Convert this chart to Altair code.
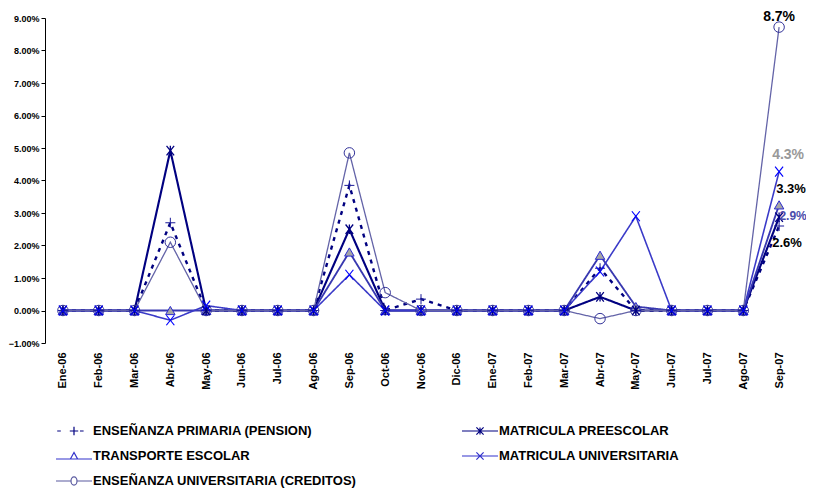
import altair as alt
import pandas as pd

# ---------------- data ----------------
months = ["Ene-06", "Feb-06", "Mar-06", "Abr-06", "May-06", "Jun-06", "Jul-06",
          "Ago-06", "Sep-06", "Oct-06", "Nov-06", "Dic-06", "Ene-07", "Feb-07",
          "Mar-07", "Abr-07", "May-07", "Jun-07", "Jul-07", "Ago-07", "Sep-07"]

series_names = ["ENSEÑANZA PRIMARIA (PENSION)",
                "MATRICULA PREESCOLAR",
                "TRANSPORTE ESCOLAR",
                "MATRICULA UNIVERSITARIA",
                "ENSEÑANZA UNIVERSITARIA (CREDITOS)"]

# values in percent
primaria = [0, 0, 0, 2.7, 0, 0, 0, 0, 3.85, 0, 0.35, 0, 0, 0, 0, 1.3, 0, 0, 0, 0, 2.6]
preescolar = [0, 0, 0, 4.92, 0, 0, 0, 0, 2.5, 0, 0, 0, 0, 0, 0, 0.42, 0, 0, 0, 0, 2.87]
transporte = [0, 0, 0, 0, 0, 0, 0, 0, 1.8, 0, 0, 0, 0, 0, 0, 1.7, 0.12, 0, 0, 0, 3.25]
mat_universitaria = [0, 0, 0, -0.3, 0.15, 0, 0, 0, 1.1, 0, 0, 0, 0, 0, 0, 1.2, 2.9, 0, 0, 0, 4.27]
creditos = [0, 0, 0, 2.1, 0, 0, 0, 0, 4.85, 0.55, 0, 0, 0, 0, 0, -0.25, 0, 0, 0, 0, 8.72]

end_labels = ["2.6%", "2.9%", "3.3%", "4.3%", "8.7%"]

values_by_series = [primaria, preescolar, transporte, mat_universitaria, creditos]

rows = []
for name, vals in zip(series_names, values_by_series):
    for m, v in zip(months, vals):
        rows.append({"mes": m, "serie": name, "valor": v / 100.0})
df = pd.DataFrame(rows)

lab_rows = []
for name, vals, lab in zip(series_names, values_by_series, end_labels):
    lab_rows.append({"mes": months[-1], "serie": name, "valor": vals[-1] / 100.0, "texto": lab})
df_lab = pd.DataFrame(lab_rows)

# ---------------- styles ----------------
FONT = "Liberation Sans"
line_colors = ["#000080", "#000080", "#3838B0", "#3A3AC8", "#6464A8"]
line_widths = [2.4, 1.3, 1.0, 1.0, 0.9]
line_dashes = [[4, 5], [1, 0], [1, 0], [1, 0], [1, 0]]

legend_colors = ["#000080", "#000080", "#3333CC", "#3333CC", "#5A5AA0"]
legend_paths = [
    "M-2.8,0H-2.2M-0.7,0H0.7M0,-0.7V0.7M1.0,0H1.6",
    "M-3,0H3M-0.6,-0.6L0.6,0.6M-0.6,0.6L0.6,-0.6M0,-0.6V0.6",
    "M-3,0.5H3M-0.6,0.5L0,-0.6L0.6,0.5Z",
    "M-3,0H3M-0.6,-0.6L0.6,0.6M-0.6,0.6L0.6,-0.6",
    "M-3,0H-0.5M0.5,0H3M0.5,0A0.5,0.7 0 1,1 -0.5,0A0.5,0.7 0 1,1 0.5,0",
]
# legend fills its grid column by column: order entries so rows read like the reference
legend_order = [0, 2, 4, 1, 3]
leg_domain = [series_names[i] for i in legend_order]
leg_colors = [legend_colors[i] for i in legend_order]
leg_paths = [legend_paths[i] for i in legend_order]

x_enc = alt.X("mes:N", sort=months,
              scale=alt.Scale(type="point", domain=months, padding=0.5),
              axis=alt.Axis(title=None, labelAngle=-90, domain=False, ticks=False,
                            labelPadding=9, labelFont=FONT, labelFontSize=11,
                            labelFontWeight="bold", labelColor="black"))
y_enc = alt.Y("valor:Q",
              scale=alt.Scale(domain=[-0.01, 0.09], nice=False, zero=False),
              axis=alt.Axis(title=None, format=".2%", values=[i / 100 for i in range(-1, 10)],
                            grid=False, domainColor="black", tickColor="black", tickSize=4,
                            labelPadding=2, labelFont=FONT, labelFontSize=9,
                            labelFontWeight="bold", labelColor="black"))

base = alt.Chart(df)

lines = base.mark_line().encode(
    x=x_enc, y=y_enc,
    stroke=alt.Stroke("serie:N", scale=alt.Scale(domain=series_names, range=line_colors), legend=None),
    strokeDash=alt.StrokeDash("serie:N", scale=alt.Scale(domain=series_names, range=line_dashes), legend=None),
    strokeWidth=alt.StrokeWidth("serie:N", scale=alt.Scale(domain=series_names, range=line_widths), legend=None),
    detail="serie:N",
)

def pts(name, shape, size, stroke, sw, fill=None):
    kw = dict(shape=shape, size=size, stroke=stroke, strokeWidth=sw, opacity=1)
    if fill:
        kw.update(filled=True, fill=fill)
    else:
        kw.update(filled=False)
    return base.transform_filter(alt.datum.serie == name).mark_point(**kw).encode(x=x_enc, y=y_enc)

p_cred = pts(series_names[4], "circle", 110, "#333399", 1.0)
p_trans = pts(series_names[2], "triangle-up", 90, "#2B2BD0", 1.0, fill="#A6A6A6")
p_prim = pts(series_names[0], "M-1,0H1M0,-1V1", 100, "#1A1A99", 1.0)
p_pre = pts(series_names[1], "M-0.8,-1L0.8,1M-0.8,1L0.8,-1M0,-1V1", 90, "#000080", 1.3)
p_univ = pts(series_names[3], "M-0.8,-1L0.8,1M-0.8,1L0.8,-1", 100, "#0000FF", 1.2)

leg = alt.Legend(title=None, orient="none", legendX=10, legendY=406, columns=2,
                 columnPadding=102, rowPadding=11, symbolSize=144, symbolStrokeWidth=1.2,
                 symbolOffset=12, labelOffset=12, labelFont=FONT, labelFontSize=13,
                 labelFontWeight="bold", labelColor="black", labelLimit=400, padding=0)

legend_layer = base.transform_filter("false").mark_point(filled=False, opacity=1).encode(
    color=alt.Color("serie:N", scale=alt.Scale(domain=leg_domain, range=leg_colors), legend=leg),
    shape=alt.Shape("serie:N", scale=alt.Scale(domain=leg_domain, range=leg_paths), legend=leg),
)

label_styles = [
    dict(color="black", dx=8, dy=17, size=13),
    dict(color="#4B4BAB", dx=14, dy=-1, size=12),
    dict(color="black", dx=12, dy=-16, size=13),
    dict(color="#999999", dx=9, dy=-17, size=14),
    dict(color="black", dx=0, dy=-10, size=14),
]
text_layers = []
for name, st in zip(series_names, label_styles):
    text_layers.append(
        alt.Chart(df_lab).transform_filter(alt.datum.serie == name).mark_text(
            font=FONT, fontWeight="bold", fontSize=st["size"], color=st["color"],
            dx=st["dx"], dy=st["dy"], align="center", baseline="middle"
        ).encode(x=x_enc, y=y_enc, text="texto:N")
    )

chart = alt.layer(legend_layer, lines, p_cred, p_trans, p_prim, p_pre, p_univ, *text_layers).properties(
    width=752, height=325,
    autosize=alt.AutoSizeParams(type="none"),
    padding={"left": 37, "top": 10, "right": 9, "bottom": 146},
).configure_view(strokeWidth=0)

chart.save("out.html", embed_options={"renderer": "svg", "actions": False})
